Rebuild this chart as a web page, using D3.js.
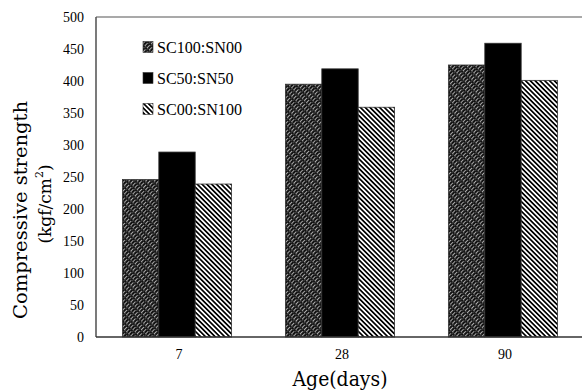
<!DOCTYPE html>
<html>
<head>
<meta charset="utf-8">
<script src="https://cdn.jsdelivr.net/npm/d3@7"></script>
<style>
  body { margin: 0; background: #fff; }
  svg { display: block; }
  .serif { font-family: 'Liberation Serif', 'Times New Roman', serif; }
  .title { font-family: 'DejaVu Serif', serif; font-stretch: condensed; }
  .unit { font-family: 'DejaVu Serif', serif; }
</style>
</head>
<body>
<svg id="chart" width="582" height="392"></svg>
<script>
// Chart data
var ages = ["7", "28", "90"];
var mixes = ["SC100:SN00", "SC50:SN50", "SC00:SN100"];
var sc100 = [246, 395, 425];
var sc50 = [289, 419, 459];
var sc00 = [239, 359, 401];
var yTicks = [0, 50, 100, 150, 200, 250, 300, 350, 400, 450, 500];

var seriesValues = [sc100, sc50, sc00];
var fills = ["url(#hatchDark)", "#000", "url(#hatchBack)"];

var svg = d3.select("#chart");
var margin = { left: 96, right: -2, top: 17, bottom: 55 };
var W = 582, H = 392;

var x0 = d3.scaleBand()
	.domain(ages)
	.range([margin.left, W - margin.right])
	.paddingInner(0.33)
	.paddingOuter(0.162);

var x1 = d3.scaleBand()
	.domain(mixes)
	.range([0, x0.bandwidth()]);

var y = d3.scaleLinear()
	.domain([0, 500])
	.range([H - margin.bottom, margin.top]);

// Fill patterns
var defs = svg.append("defs");

var pDark = defs.append("pattern")
	.attr("id", "hatchDark")
	.attr("patternUnits", "userSpaceOnUse")
	.attr("width", 3).attr("height", 6)
	.attr("patternTransform", "rotate(45)");
pDark.append("rect").attr("width", 3).attr("height", 6).attr("fill", "#111");
pDark.append("rect").attr("width", 0.9).attr("height", 4).attr("fill", "#bbb");
pDark.append("rect").attr("x", 1.5).attr("y", 3).attr("width", 0.6).attr("height", 3).attr("fill", "#777");

var pBack = defs.append("pattern")
	.attr("id", "hatchBack")
	.attr("patternUnits", "userSpaceOnUse")
	.attr("width", 3.4).attr("height", 3.4)
	.attr("patternTransform", "rotate(-45)");
pBack.append("rect").attr("width", 3.4).attr("height", 3.4).attr("fill", "#fff");
pBack.append("rect").attr("width", 1.7).attr("height", 3.4).attr("fill", "#000");

// Bars
var groups = svg.append("g").selectAll("g")
	.data(ages)
	.enter()
	.append("g")
	.attr("transform", function(d) { return "translate(" + x0(d) + ",0)"; });

groups.selectAll("rect")
	.data(function(d, i) {
		return mixes.map(function(m, j) { return { mix: m, value: seriesValues[j][i], k: j }; });
	})
	.enter()
	.append("rect")
	.attr("x", function(d) { return x1(d.mix); })
	.attr("y", function(d) { return y(d.value); })
	.attr("width", x1.bandwidth())
	.attr("height", function(d) { return y(0) - y(d.value); })
	.attr("fill", function(d) { return fills[d.k]; })
	.attr("stroke", "#333")
	.attr("stroke-width", 0.8);

// Frame: left, top and bottom lines
svg.append("line")
	.attr("x1", margin.left).attr("x2", margin.left)
	.attr("y1", y(500)).attr("y2", y(0))
	.attr("stroke", "#222").attr("stroke-width", 1.2);
svg.append("line")
	.attr("x1", margin.left).attr("x2", W)
	.attr("y1", y(500)).attr("y2", y(500))
	.attr("stroke", "#555").attr("stroke-width", 1.2);
svg.append("line")
	.attr("x1", margin.left).attr("x2", W)
	.attr("y1", y(0)).attr("y2", y(0))
	.attr("stroke", "#333").attr("stroke-width", 1.3);

// Y tick labels
svg.append("g").selectAll("text")
	.data(yTicks)
	.enter()
	.append("text")
	.attr("class", "serif")
	.attr("x", 84)
	.attr("y", function(d) { return y(d) + 5; })
	.attr("text-anchor", "end")
	.attr("font-size", 14)
	.text(function(d) { return d; });

// X tick labels
svg.append("g").selectAll("text")
	.data(ages)
	.enter()
	.append("text")
	.attr("class", "serif")
	.attr("x", function(d) { return x0(d) + x0.bandwidth() / 2 + 2; })
	.attr("y", 359)
	.attr("text-anchor", "middle")
	.attr("font-size", 14)
	.text(function(d) { return d; });

// Axis titles
svg.append("text")
	.attr("class", "title")
	.attr("x", 340).attr("y", 386)
	.attr("text-anchor", "middle")
	.attr("font-size", 20)
	.attr("textLength", 95)
	.attr("lengthAdjust", "spacingAndGlyphs")
	.text("Age(days)");

var yTitle = svg.append("g").attr("transform", "translate(27,210) rotate(-90)");
yTitle.append("text")
	.attr("class", "title")
	.attr("x", 0).attr("y", 0)
	.attr("text-anchor", "middle")
	.attr("font-size", 18)
	.attr("textLength", 218)
	.attr("lengthAdjust", "spacingAndGlyphs")
	.text("Compressive strength");
var unit = yTitle.append("text")
	.attr("class", "unit")
	.attr("x", 6).attr("y", 24)
	.attr("text-anchor", "middle")
	.attr("font-size", 17);
unit.append("tspan").text("(kgf/cm");
unit.append("tspan").attr("dy", -8).attr("font-size", 11).text("2");
unit.append("tspan").attr("dy", 8).text(")");

// Legend
var legendY = [47, 78, 109];
var legend = svg.append("g").selectAll("g")
	.data(mixes)
	.enter()
	.append("g")
	.attr("transform", function(d, i) { return "translate(143," + legendY[i] + ")"; });
legend.append("rect")
	.attr("x", 0).attr("y", -5.5)
	.attr("width", 10).attr("height", 11)
	.attr("fill", function(d, i) { return fills[i]; })
	.attr("stroke", "#333").attr("stroke-width", 0.6);
legend.append("text")
	.attr("class", "serif")
	.attr("x", 14).attr("y", 5.5)
	.attr("font-size", 16)
	.attr("textLength", function(d) { return d.length * 8.5; })
	.attr("lengthAdjust", "spacingAndGlyphs")
	.text(function(d) { return d; });
</script>
</body>
</html>
